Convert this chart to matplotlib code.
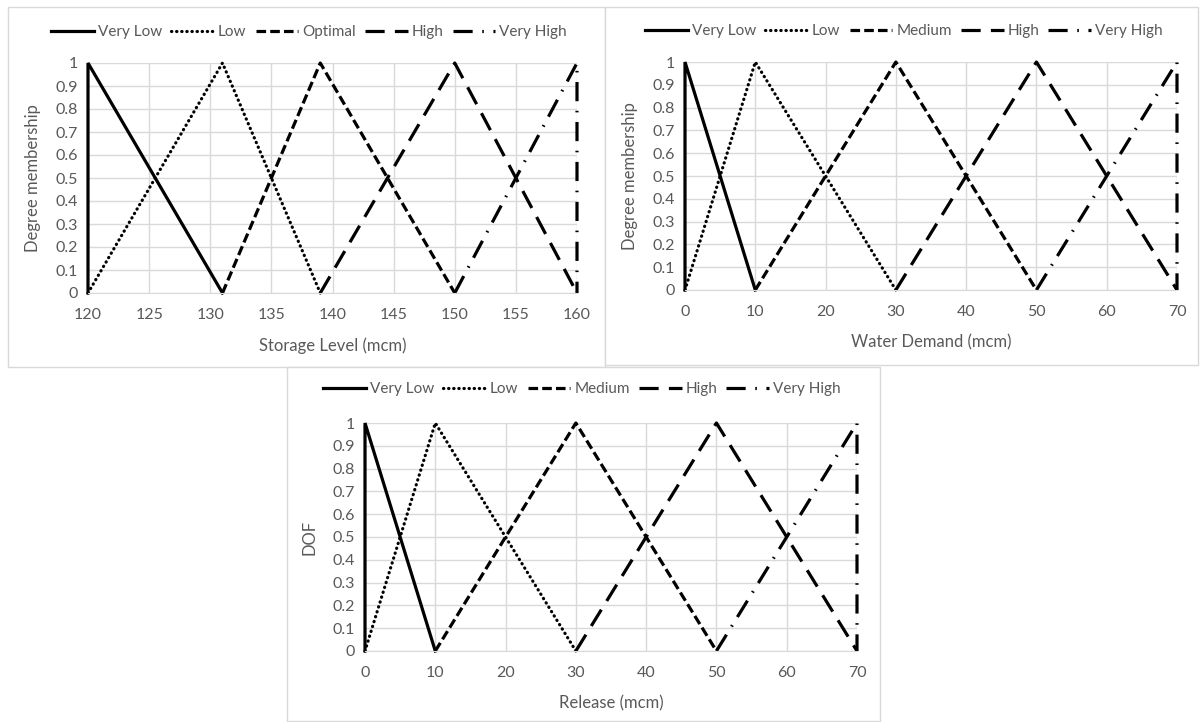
import matplotlib
matplotlib.use("Agg")
import matplotlib.pyplot as plt
from matplotlib.patches import Rectangle

plt.rcParams['font.family'] = ['Lato', 'DejaVu Sans']

# ---------------- data ----------------
# Storage level panel
storage_names = ["Very Low", "Low", "Optimal", "High", "Very High"]
storage_x = [
    [120, 120, 131],
    [120, 131, 139],
    [131, 139, 150],
    [139, 150, 160],
    [150, 160, 160],
]
storage_y = [
    [0, 1, 0],
    [0, 1, 0],
    [0, 1, 0],
    [0, 1, 0],
    [0, 1, 0],
]
storage_ticks = [120, 125, 130, 135, 140, 145, 150, 155, 160]

# Water demand panel
demand_names = ["Very Low", "Low", "Medium", "High", "Very High"]
demand_x = [
    [0, 0, 10],
    [0, 10, 30],
    [10, 30, 50],
    [30, 50, 70],
    [50, 70, 70],
]
demand_y = [
    [0, 1, 0],
    [0, 1, 0],
    [0, 1, 0],
    [0, 1, 0],
    [0, 1, 0],
]

# Release panel
release_names = ["Very Low", "Low", "Medium", "High", "Very High"]
release_x = [
    [0, 0, 10],
    [0, 10, 30],
    [10, 30, 50],
    [30, 50, 70],
    [50, 70, 70],
]
release_y = [
    [0, 1, 0],
    [0, 1, 0],
    [0, 1, 0],
    [0, 1, 0],
    [0, 1, 0],
]
flow_ticks = [0, 10, 20, 30, 40, 50, 60, 70]
y_ticks = [0, 0.1, 0.2, 0.3, 0.4, 0.5, 0.6, 0.7, 0.8, 0.9, 1]
y_ticklabels = ["0", "0.1", "0.2", "0.3", "0.4", "0.5", "0.6", "0.7", "0.8", "0.9", "1"]

# ---------------- styles ----------------
TEXT = "#595959"
GRID = "#d9d9d9"
styles = [
    dict(linestyle="-"),
    dict(linestyle=(0, (0.1, 1.5)), dash_capstyle="round"),
    dict(linestyle=(0, (3.0, 1.3))),
    dict(linestyle=(0, (6.0, 3.2))),
    dict(linestyle=(0, (6.0, 3.0, 0.5, 3.0))),
]

W, H = 1200, 722
fig = plt.figure(figsize=(12, 7.22), dpi=100)


def px_axes(left, top, right, bottom):
    return fig.add_axes([left / W, 1 - bottom / H, (right - left) / W, (bottom - top) / H])


def box(left, top, right, bottom):
    fig.patches.append(Rectangle((left / W, 1 - bottom / H), (right - left) / W,
                                 (bottom - top) / H, transform=fig.transFigure,
                                 facecolor="white", edgecolor=GRID, lw=1, zorder=-5))


def panel(ax, xs, ys, names, ticks, xlabel, ylabel, legend_xy):
    ax.patch.set_alpha(0)
    handles = []
    for x, y, name, st in zip(xs, ys, names, styles):
        h, = ax.plot(x, y, color="black", lw=2.3, label=name, clip_on=False,
                     solid_joinstyle="miter", **st)
        handles.append(h)
    ax.set_xlim(ticks[0], ticks[-1])
    ax.set_ylim(0, 1)
    ax.set_xticks(ticks)
    ax.set_yticks(y_ticks)
    ax.set_yticklabels(y_ticklabels)
    ax.grid(True, color=GRID, lw=1)
    ax.set_axisbelow(True)
    for s in ["top", "right", "left"]:
        ax.spines[s].set_visible(False)
    ax.spines["bottom"].set_color(GRID)
    ax.tick_params(length=0, colors=TEXT, labelsize=11.5, pad=7)
    ax.tick_params(axis="x", pad=11)
    ax.set_xlabel(xlabel, color=TEXT, fontsize=12)
    ax.set_ylabel(ylabel, color=TEXT, fontsize=12)
    ax.xaxis.set_label_coords(0.5, -44 / ax.bbox.height)
    ax.yaxis.set_label_coords(-47 / ax.bbox.width, 0.5)
    fig.legend(handles=handles, loc="center", bbox_to_anchor=legend_xy,
               bbox_transform=fig.transFigure, ncol=5, frameon=False,
               handlelength=2.8, handletextpad=0.25, columnspacing=0.6,
               fontsize=11, labelcolor=TEXT)


box(8, 7, 605, 367)
box(605, 7, 1198, 365)
box(287, 367, 880, 721)

ax1 = px_axes(88, 63, 577, 293)
ax2 = px_axes(685, 62, 1177, 290)
ax3 = px_axes(365, 423, 857, 651)

panel(ax1, storage_x, storage_y, storage_names, storage_ticks,
      "Storage Level (mcm)", "Degree membership", (309 / W, 1 - 32 / H))
panel(ax2, demand_x, demand_y, demand_names, flow_ticks,
      "Water Demand (mcm)", "Degree membership", (904 / W, 1 - 31 / H))
panel(ax3, release_x, release_y, release_names, flow_ticks,
      "Release (mcm)", "DOF", (582 / W, 1 - 389 / H))

fig.savefig("out.png", dpi=100, facecolor="white")
